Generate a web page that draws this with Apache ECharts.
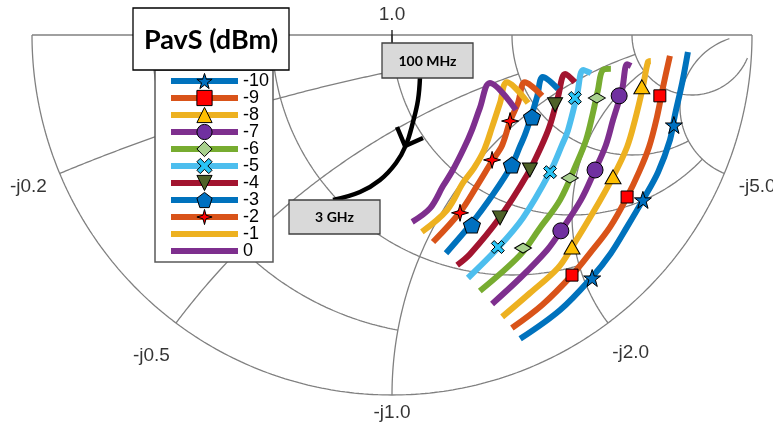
<!DOCTYPE html>
<html><head><meta charset="utf-8">
<script src="https://cdn.jsdelivr.net/npm/echarts@6/dist/echarts.min.js"></script>
<style>html,body{margin:0;padding:0;background:#fff}#c{width:773px;height:434px}</style>
</head><body><div id="c"></div>
<script>
// ---- Legend / series names (PavS in dBm) ----
const pavsLevels = ['-10','-9','-8','-7','-6','-5','-4','-3','-2','-1','0'];

// ---- Reflection coefficient traces (Re, Im of Gamma), 100 MHz -> 3 GHz ----
const re_m10 = [0.822,0.806,0.786,0.772,0.739,0.697,0.653,0.608,0.556,0.467,0.356];
const im_m10 = [-0.047,-0.133,-0.222,-0.292,-0.381,-0.458,-0.533,-0.606,-0.672,-0.764,-0.844];
const re_m9 = [0.772,0.753,0.736,0.714,0.686,0.653,0.606,0.550,0.500,0.417,0.333];
const im_m9 = [-0.058,-0.144,-0.228,-0.311,-0.381,-0.450,-0.533,-0.606,-0.667,-0.750,-0.814];
const re_m8 = [0.719,0.711,0.697,0.675,0.653,0.614,0.558,0.500,0.461,0.383,0.306];
const im_m8 = [-0.072,-0.075,-0.144,-0.236,-0.311,-0.394,-0.494,-0.589,-0.647,-0.717,-0.783];
const re_m7 = [0.664,0.653,0.639,0.614,0.594,0.564,0.525,0.469,0.431,0.356,0.278];
const im_m7 = [-0.086,-0.081,-0.153,-0.236,-0.306,-0.375,-0.458,-0.544,-0.597,-0.675,-0.747];
const re_m6 = [0.608,0.586,0.572,0.558,0.539,0.511,0.467,0.411,0.356,0.244];
const im_m6 = [-0.094,-0.097,-0.153,-0.217,-0.292,-0.361,-0.458,-0.536,-0.611,-0.711];
const re_m5 = [0.553,0.531,0.514,0.489,0.472,0.439,0.364,0.292,0.211];
const im_m5 = [-0.106,-0.097,-0.167,-0.264,-0.306,-0.381,-0.508,-0.594,-0.675];
const re_m4 = [0.508,0.481,0.461,0.439,0.414,0.375,0.300,0.217,0.181];
const im_m4 = [-0.131,-0.108,-0.172,-0.250,-0.311,-0.389,-0.506,-0.608,-0.639];
const re_m3 = [0.461,0.419,0.403,0.389,0.369,0.356,0.333,0.281,0.222,0.150];
const im_m3 = [-0.150,-0.117,-0.172,-0.219,-0.278,-0.308,-0.361,-0.442,-0.522,-0.606];
const re_m2 = [0.417,0.369,0.350,0.328,0.306,0.278,0.236,0.189,0.114];
const im_m2 = [-0.169,-0.131,-0.189,-0.239,-0.306,-0.350,-0.419,-0.492,-0.575];
const re_m1 = [0.378,0.319,0.300,0.278,0.256,0.228,0.197,0.153,0.083];
const im_m1 = [-0.189,-0.131,-0.189,-0.256,-0.319,-0.369,-0.411,-0.486,-0.547];
const re_0 = [0.344,0.272,0.244,0.222,0.200,0.169,0.142,0.106,0.056];
const im_0 = [-0.208,-0.133,-0.203,-0.264,-0.314,-0.375,-0.419,-0.481,-0.519];

// ---- Marker points (Re, Im of Gamma) ----
const mkRe_m10 = [0.783,0.697,0.556];  const mkIm_m10 = [-0.250,-0.458,-0.675];
const mkRe_m9  = [0.744,0.653,0.500];  const mkIm_m9  = [-0.169,-0.450,-0.667];
const mkRe_m8  = [0.694,0.614,0.500];  const mkIm_m8  = [-0.144,-0.394,-0.589];
const mkRe_m7  = [0.631,0.564,0.469];  const mkIm_m7  = [-0.169,-0.375,-0.544];
const mkRe_m6  = [0.569,0.494,0.364];  const mkIm_m6  = [-0.175,-0.397,-0.592];
const mkRe_m5  = [0.508,0.439,0.294];  const mkIm_m5  = [-0.175,-0.381,-0.589];
const mkRe_m4  = [0.453,0.383,0.300];  const mkIm_m4  = [-0.194,-0.375,-0.508];
const mkRe_m3  = [0.389,0.333,0.222];  const mkIm_m3  = [-0.228,-0.361,-0.528];
const mkRe_m2  = [0.328,0.278,0.189];  const mkIm_m2  = [-0.239,-0.347,-0.494];

// ---- Smith chart grid values (row 1) and line end points (row 2) ----
const gridValues = [0.2, 0.5, 1.0, 2.0, 5.0];
const gridLimits = [1.0, 2.0, 5.0, 5.0, 30];
const reactanceLabels = ['-j0.2','-j0.5','-j1.0','-j2.0','-j5.0'];
const resistanceLabel = '1.0';

// ---------------------------------------------------------------
const FONT = "'Liberation Sans', Arial, sans-serif";
const curveRe = [re_m10,re_m9,re_m8,re_m7,re_m6,re_m5,re_m4,re_m3,re_m2,re_m1,re_0];
const curveIm = [im_m10,im_m9,im_m8,im_m7,im_m6,im_m5,im_m4,im_m3,im_m2,im_m1,im_0];
const markRe = [mkRe_m10,mkRe_m9,mkRe_m8,mkRe_m7,mkRe_m6,mkRe_m5,mkRe_m4,mkRe_m3,mkRe_m2,null,null];
const markIm = [mkIm_m10,mkIm_m9,mkIm_m8,mkIm_m7,mkIm_m6,mkIm_m5,mkIm_m4,mkIm_m3,mkIm_m2,null,null];

const C1='#0072BD',C2='#D95319',C3='#EDB120',C4='#7E2F8E',C5='#77AC30',C6='#4DBEEE',C7='#A2142F';
const lineColors=[C1,C2,C3,C4,C5,C6,C7,C1,C2,C3,C4];
const STAR5='path://M50 0 L61.8 35.1 L98.6 35.1 L68.9 57 L79.4 91.9 L50 70.4 L20.6 91.9 L31.1 57 L1.4 35.1 L38.2 35.1 Z';
const PENT='path://M50 0 L97.6 34.5 L79.4 90.5 L20.6 90.5 L2.4 34.5 Z';
const XMARK='path://M22 0 L50 28 L78 0 L100 22 L72 50 L100 78 L78 100 L50 72 L22 100 L0 78 L28 50 L0 22 Z';
const STAR4='path://M50 0 L60 38 L100 50 L60 62 L50 100 L40 62 L0 50 L40 38 Z';
const markerDefs=[
 {symbol:STAR5,size:[17,17],rot:0,fill:'#0070C0'},
 {symbol:'rect',size:[12,12],rot:0,fill:'#FF0000'},
 {symbol:'triangle',size:[16,14],rot:0,fill:'#FFC000'},
 {symbol:'circle',size:[16,16],rot:0,fill:'#7030A0'},
 {symbol:'diamond',size:[17,10],rot:0,fill:'#A9D18E'},
 {symbol:XMARK,size:[13,13],rot:0,fill:'#29C5F6'},
 {symbol:'triangle',size:[15,14],rot:180,fill:'#4F6228'},
 {symbol:PENT,size:[17,16],rot:0,fill:'#0070C0'},
 {symbol:STAR4,size:[17,17],rot:0,fill:'#FF0000'},
 null,null];

function gammaOf(r,x){ const a=r-1,b=x,c=r+1,d=x,den=c*c+d*d; return [(a*c+b*d)/den,(b*c-a*d)/den]; }
function resistanceArc(r,lim){
  const cx=r/(1+r), rad=1/(1+r), g=gammaOf(r,-lim);
  const p1=Math.atan2(g[1],g[0]-cx), p0=-Math.PI, pts=[];
  for(let i=0;i<=160;i++){const p=p0+(p1-p0)*i/160; pts.push([cx+rad*Math.cos(p),rad*Math.sin(p)]);}
  return pts;
}
function reactanceArc(X,lim){
  const cy=-1/X, rad=1/X, g0=gammaOf(0,-X), g1=gammaOf(lim,-X);
  let a0=Math.atan2(g0[1]-cy,g0[0]-1), a1=Math.atan2(g1[1]-cy,g1[0]-1);
  if(a0<0)a0+=2*Math.PI; if(a1<0)a1+=2*Math.PI;
  const pts=[];
  for(let i=0;i<=160;i++){const a=a0+(a1-a0)*i/160; pts.push([1+rad*Math.cos(a),cy+rad*Math.sin(a)]);}
  return pts;
}
const gridStyle={color:'#808080',width:1.3};
function gridSeries(pts,style){return {type:'line',data:pts,symbol:'none',showSymbol:false,lineStyle:style||gridStyle,silent:true,z:1,animation:false,clip:false};}

const series=[];
series.push(gridSeries([[-1,0],[1,0]]));
const outer=[]; for(let i=0;i<=240;i++){const p=-Math.PI+Math.PI*i/240; outer.push([Math.cos(p),Math.sin(p)]);}
series.push(gridSeries(outer));
gridValues.forEach((v,i)=>{ series.push(gridSeries(resistanceArc(v,gridLimits[i]))); series.push(gridSeries(reactanceArc(v,gridLimits[i]))); });
series.push(gridSeries([[0,5/360],[0,-8/360]],{color:'#000',width:1.2}));

// axis labels
const labelFactors=[1.094,1.114,1.05,1.105,1.099];
const labelData=gridValues.map((v,i)=>{const g=gammaOf(0,-v);return {value:[g[0]*labelFactors[i],g[1]*labelFactors[i]],name:reactanceLabels[i]};});
labelData.push({value:[0,20/360],name:resistanceLabel});
series.push({type:'scatter',data:labelData,symbolSize:0,silent:true,clip:false,z:2,animation:false,
  label:{show:true,position:'inside',formatter:'{b}',fontFamily:FONT,fontSize:19,color:'#000'}});

// traces
pavsLevels.forEach((lvl,i)=>{
  const m=markerDefs[i];
  const pts=curveRe[i].map((x,k)=>[x,curveIm[i][k]]);
  const s={type:'line',name:lvl,data:pts,smooth:0.35,showSymbol:false,z:3,animation:false,
    lineStyle:{color:lineColors[i],width:6,cap:'butt',join:'miter'}};
  if(m){ s.symbol=m.symbol; s.symbolRotate=m.rot; s.itemStyle={color:m.fill,borderColor:'#000',borderWidth:1}; }
  else { s.symbol='circle'; s.itemStyle={color:'rgba(0,0,0,0)',borderColor:'rgba(0,0,0,0)',borderWidth:0}; }
  series.push(s);
});
pavsLevels.forEach((lvl,i)=>{
  const m=markerDefs[i]; if(!m) return;
  series.push({type:'scatter',name:lvl+' markers',data:markRe[i].map((x,k)=>[x,markIm[i][k]]),
    symbol:m.symbol,symbolSize:m.size,symbolRotate:m.rot,clip:false,silent:true,z:4,animation:false,
    itemStyle:{color:m.fill,borderColor:'#000',borderWidth:1,opacity:1}});
});

const option={
  animation:false,
  backgroundColor:'#fff',
  grid:{left:32,top:35,width:720,height:360,show:false},
  xAxis:{type:'value',min:-1,max:1,show:false},
  yAxis:{type:'value',min:-1,max:0,show:false},
  legend:{data:pavsLevels,orient:'vertical',left:168,top:72,itemWidth:67,itemHeight:19,itemGap:-1,
    selectedMode:false,z:5,padding:0,
    textStyle:{fontSize:18,lineHeight:17,fontFamily:FONT,color:'#000'},
    lineStyle:{width:6},itemStyle:{borderWidth:1}},
  graphic:[
    {type:'rect',shape:{x:155,y:70,width:118,height:192},style:{fill:'#fff',stroke:'#595959',lineWidth:1.5},z:3},
    {type:'rect',shape:{x:133,y:8,width:156,height:62},style:{fill:'#fff',stroke:'#000',lineWidth:1.3},z:6},
    {type:'text',x:211,y:40,style:{text:'PavS (dBm)',font:'bold 27px Lato, sans-serif',fill:'#000',textAlign:'center',textVerticalAlign:'middle',align:'center',verticalAlign:'middle'},z:7},
    {type:'polyline',shape:{points:[[420,77],[418,100],[413,122],[406,145],[396,163],[380,180],[360,192],[333,200]],smooth:0.4},style:{stroke:'#000',lineWidth:4.5,fill:null},z:5},
    {type:'polyline',shape:{points:[[397,127],[405,146],[423,138]]},style:{stroke:'#000',lineWidth:4.5,fill:null},z:5},
    {type:'rect',shape:{x:382,y:43,width:91,height:35},style:{fill:'#D9D9D9',stroke:'#404040',lineWidth:1.3},z:6},
    {type:'text',x:427.5,y:61,style:{text:'100 MHz',font:'bold 14px Lato, sans-serif',fill:'#000',textAlign:'center',textVerticalAlign:'middle',align:'center',verticalAlign:'middle'},z:7},
    {type:'rect',shape:{x:289,y:200,width:91,height:34},style:{fill:'#D9D9D9',stroke:'#404040',lineWidth:1.3},z:6},
    {type:'text',x:334.5,y:217.5,style:{text:'3 GHz',font:'bold 14px Lato, sans-serif',fill:'#000',textAlign:'center',textVerticalAlign:'middle',align:'center',verticalAlign:'middle'},z:7}
  ],
  series:series
};
const chart=echarts.init(document.getElementById('c'),null,{renderer:'canvas'});
chart.setOption(option);
</script></body></html>
